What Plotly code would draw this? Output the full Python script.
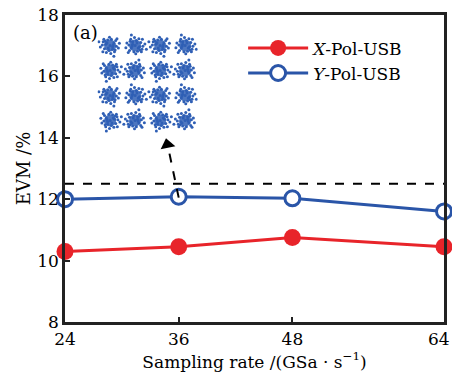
import plotly.graph_objects as go

rates = [24, 36, 48, 64]
x_pol = [10.3, 10.45, 10.75, 10.45]
y_pol = [12.0, 12.08, 12.03, 11.6]
threshold = 12.5
x_ticks = [24, 36, 48, 64]
x_tick_labels = ["24", "36", "48", "64"]
y_ticks = [8, 10, 12, 14, 16, 18]

# inset constellation (16-QAM)
levels = [-3, -1, 1, 3]
spread = [(0.0, 0.0), (0.35, 0.1), (-0.3, 0.2), (0.1, -0.4), (-0.2, -0.3), (0.45, -0.25),
          (-0.5, -0.05), (0.2, 0.45), (-0.1, 0.5), (0.55, 0.3), (-0.45, 0.4), (0.3, -0.55),
          (-0.35, -0.5), (0.62, 0.05), (-0.66, -0.2), (0.05, 0.66), (-0.05, -0.64), (0.5, 0.5),
          (-0.55, 0.55), (0.58, -0.5), (0.78, -0.12), (-0.74, 0.18), (0.25, 0.2), (-0.2, -0.1),
          (0.15, -0.2), (-0.25, 0.05), (0.4, 0.35), (-0.4, -0.35), (0.9, 0.3), (-0.3, -0.85)]

FONT = "DejaVu Serif"
RED = "#e8242a"
BLUE = "#2a55a8"
DOT = "#2f5fb5"
AX = "#222222"

fig = go.Figure()

fig.add_trace(go.Scatter(x=rates, y=x_pol, mode="lines+markers", name="<i>X</i>-Pol-USB",
                         line=dict(color=RED, width=3),
                         marker=dict(symbol="circle", size=17, color=RED, line=dict(width=0)),
                         cliponaxis=False))
fig.add_trace(go.Scatter(x=rates, y=y_pol, mode="lines+markers", name="<i>Y</i>-Pol-USB",
                         line=dict(color=BLUE, width=3),
                         marker=dict(symbol="circle", size=15, color="white", line=dict(color=BLUE, width=3)),
                         cliponaxis=False))

cx, cy, px, py = [], [], [], []
for i, a in enumerate(levels):
    for j, b in enumerate(levels):
        cx.append(a); cy.append(b)
        sx = 1 if (i + j) % 2 == 0 else -1
        sy = 1 if i % 2 == 0 else -1
        for dx, dy in spread:
            px.append(a + sx * dx); py.append(b + sy * dy)
fig.add_trace(go.Scatter(x=cx, y=cy, mode="markers", xaxis="x2", yaxis="y2", showlegend=False,
                         marker=dict(size=12, color=DOT, opacity=0.85), hoverinfo="skip"))
fig.add_trace(go.Scatter(x=px, y=py, mode="markers", xaxis="x2", yaxis="y2", showlegend=False,
                         marker=dict(size=3, color=DOT), hoverinfo="skip"))

fig.add_shape(type="line", x0=min(rates), x1=max(rates), y0=threshold, y1=threshold,
              line=dict(color="black", width=2, dash="dash"))

# dashed arrow from the 36 GSa/s point to the inset
arrow_start = (36.0, 12.05)
arrow_tip = (34.8, 13.9)
fig.add_shape(type="line", x0=arrow_start[0], y0=arrow_start[1], x1=34.88, y1=13.7,
              line=dict(color="black", width=2, dash="dash"))
fig.add_trace(go.Scatter(x=[arrow_tip[0]], y=[arrow_tip[1] - 0.12], mode="markers", showlegend=False,
                         marker=dict(symbol="triangle-up", size=13, angle=-12, color="black",
                                     line=dict(width=0)), hoverinfo="skip"))

fig.add_annotation(x=0.015, y=0.985, xref="paper", yref="paper", text="(a)", showarrow=False,
                   xanchor="left", yanchor="top", font=dict(family=FONT, size=18, color="black"))
# last x tick label, pulled inside the figure edge as in the reference
fig.add_annotation(x=x_ticks[-1], y=0, xref="x", yref="paper", text=x_tick_labels[-1], showarrow=False,
                   xanchor="right", yanchor="top", xshift=8, yshift=-5,
                   font=dict(family=FONT, size=17, color="black"))

fig.update_layout(
    width=452, height=382,
    margin=dict(l=65, r=8, t=15, b=60, autoexpand=False),
    paper_bgcolor="white", plot_bgcolor="white",
    font=dict(family=FONT, size=17, color="black"),
    xaxis=dict(range=[24, 64], tickvals=x_ticks[:-1], ticktext=x_tick_labels[:-1], ticks="inside", ticklen=5,
               tickwidth=2, tickcolor=AX, automargin=False,
               showline=True, linecolor=AX, linewidth=2.5, mirror=True, showgrid=False, zeroline=False,
               title=dict(text="Sampling rate /(GSa · s<sup>−1</sup>)", font=dict(size=17), standoff=8),
               tickfont=dict(size=17)),
    yaxis=dict(range=[8, 18], tickvals=y_ticks, ticks="inside", ticklen=5, tickwidth=2, tickcolor=AX,
               ticklabeloverflow="allow", automargin=False,
               showline=True, linecolor=AX, linewidth=2.5, mirror=True, showgrid=False, zeroline=False,
               title=dict(text="EVM /%", font=dict(size=18), standoff=2), tickfont=dict(size=17)),
    xaxis2=dict(domain=[0.086, 0.35], range=[-4, 4], anchor="y2", visible=False),
    yaxis2=dict(domain=[0.616, 0.941], range=[-4, 4], anchor="x2", visible=False),
    legend=dict(x=0.47, y=0.95, xanchor="left", yanchor="top", bgcolor="rgba(0,0,0,0)",
                font=dict(size=17), itemwidth=60, tracegroupgap=0),
    showlegend=True,
)

fig.write_html("out.html", config={"displayModeBar": False},
               post_script="document.body.style.margin='0';document.body.style.overflow='hidden';")
